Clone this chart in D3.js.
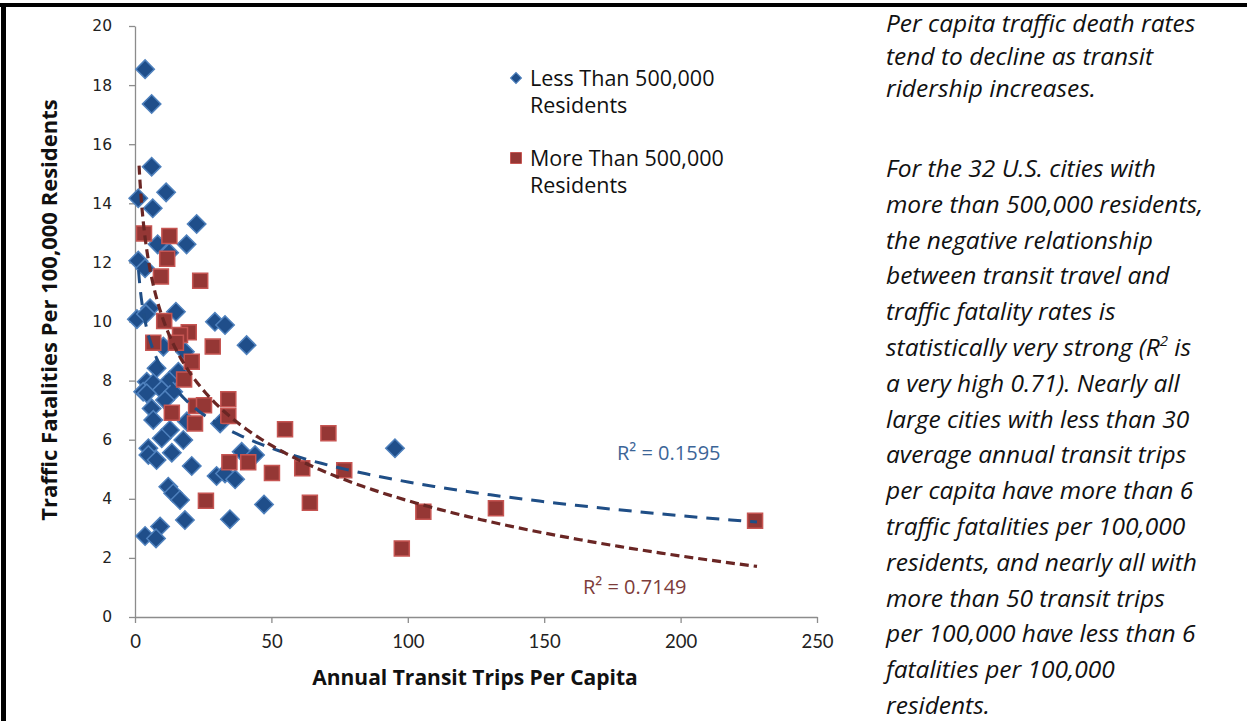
<!DOCTYPE html>
<html lang="en">
<head>
<meta charset="UTF-8">
<title>Traffic Fatalities vs Transit Trips</title>
<script src="https://d3js.org/d3.v7.min.js"></script>
<style>
    body { margin: 0; background: #fff; }
    svg { display: block; }
</style>
</head>
<body>
<div id="chart"></div>
<script>
// cities under 500,000 residents (annual transit trips per capita, fatalities per 100k)
var lessTrips  = [3.7, 6.1, 6.1, 11.4, 1.2, 6.5, 22.6, 1.2, 8.3, 18.9, 12.5, 3.7, 5.5, 0.7, 4.0, 15.0, 29.3, 33.0, 40.9, 10.4,
                  18.3, 7.9, 4.3, 6.7, 12.8, 9.8, 15.9, 3.0, 14.0, 4.3, 11.0, 6.1, 6.7, 12.8, 9.8, 17.7, 4.9, 4.9, 7.9, 13.5,
                  20.8, 31.2, 39.1, 44.0, 29.9, 33.0, 36.7, 12.2, 14.0, 16.5, 18.3, 34.8, 47.3, 9.2, 3.7, 7.7, 95.3, 19.0];
var lessDeaths = [18.54, 17.36, 15.24, 14.37, 14.17, 13.83, 13.30, 12.06, 12.61, 12.61, 12.33, 11.80, 10.45, 10.08, 10.25, 10.33, 9.99, 9.88, 9.20, 9.15,
                  8.98, 8.42, 7.96, 7.91, 8.02, 7.68, 8.30, 7.62, 7.62, 7.57, 7.34, 7.06, 6.67, 6.33, 6.05, 5.99, 5.71, 5.48, 5.31, 5.56,
                  5.11, 6.55, 5.59, 5.48, 4.77, 4.86, 4.66, 4.41, 4.19, 3.96, 3.28, 3.31, 3.81, 3.06, 2.74, 2.66, 5.71, 6.62];

// cities over 500,000 residents
var moreTrips  = [3.3, 12.6, 11.8, 9.5, 23.9, 10.7, 19.7, 16.5, 6.7, 15.0, 28.5, 20.8, 18.0, 34.2, 13.5, 22.4,
                  25.3, 34.2, 22.0, 55.0, 34.6, 41.5, 50.2, 26.0, 70.9, 61.3, 76.7, 64.1, 105.7, 97.8, 132.3, 227.3];
var moreDeaths = [12.98, 12.89, 12.12, 11.52, 11.38, 10.02, 9.64, 9.54, 9.28, 9.28, 9.15, 8.64, 8.04, 7.37, 6.91, 7.14,
                  7.17, 6.80, 6.55, 6.35, 5.24, 5.24, 4.87, 3.93, 6.22, 5.03, 4.97, 3.87, 3.56, 2.32, 3.68, 3.26];

// log trendlines as drawn in the source, y = a + b*ln(x), and the x span they cover
var trendCoefs = [[12.17, -1.65], [16.37, -2.70]];
var trendSpans = [[1.3, 228], [1.5, 228]];

var xTicks = [0, 50, 100, 150, 200, 250];
var yTicks = [0, 2, 4, 6, 8, 10, 12, 14, 16, 18, 20];
var legendLabels = [["Less Than 500,000", "Residents"], ["More Than 500,000", "Residents"]];
var r2Labels = ["R\u00B2 = 0.1595", "R\u00B2 = 0.7149"];

var noteFirst = ["Per capita traffic death rates", "tend to decline as transit", "ridership increases."];
var noteSecond = ["For the 32 U.S. cities with", "more than 500,000 residents,", "the negative relationship",
                  "between transit travel and", "traffic fatality rates is", "statistically very strong (R|2| is",
                  "a very high 0.71). Nearly all", "large cities with less than 30", "average annual transit trips",
                  "per capita have more than 6", "traffic fatalities per 100,000", "residents, and nearly all with",
                  "more than 50 transit trips", "per 100,000 have less than 6", "fatalities per 100,000", "residents."];

var width = 1247, height = 721;
var margin = {left: 135, top: 26, right: 430, bottom: 104};

var svg = d3.select("#chart").append("svg")
    .attr("width", width)
    .attr("height", height);

// black frame at top and left
svg.append("rect").attr("x", 0).attr("y", 3).attr("width", width).attr("height", 4).attr("fill", "#000");
svg.append("rect").attr("x", 1).attr("y", 3).attr("width", 5).attr("height", height).attr("fill", "#000");

var x = d3.scaleLinear().domain([0, 250]).range([margin.left, width - margin.right]);
var y = d3.scaleLinear().domain([0, 20]).range([height - margin.bottom, margin.top]);

//axes
var yAxis = svg.append("g")
    .attr("transform", "translate(" + margin.left + ",0)")
    .call(d3.axisLeft(y).tickValues(yTicks).tickSize(6).tickSizeOuter(0).tickPadding(17));
var xAxis = svg.append("g")
    .attr("transform", "translate(0," + (height - margin.bottom) + ")")
    .call(d3.axisBottom(x).tickValues(xTicks).tickSize(6).tickSizeOuter(0).tickPadding(12));

svg.selectAll(".domain, .tick line").attr("stroke", "#8c8c8c").attr("stroke-width", 1.3);
yAxis.selectAll("text").attr("font-family", "DejaVu Sans").attr("font-size", 15.5).attr("fill", "#222");
xAxis.selectAll("text").attr("font-family", "Lato").attr("font-size", 18.5).attr("fill", "#222");

svg.append("text")
    .attr("x", 475).attr("y", 685)
    .attr("text-anchor", "middle")
    .attr("font-family", "Open Sans").attr("font-weight", "bold").attr("font-size", 21)
    .attr("fill", "#111")
    .text("Annual Transit Trips Per Capita");
svg.append("text")
    .attr("transform", "translate(57,310) rotate(-90)")
    .attr("text-anchor", "middle")
    .attr("font-family", "Open Sans").attr("font-weight", "bold").attr("font-size", 22)
    .attr("fill", "#111")
    .text("Traffic Fatalities Per 100,000 Residents");

function trendPath(coef, span) {
    var pts = d3.range(0, 121).map(function (i) {
        var xv = span[0] * Math.pow(span[1] / span[0], i / 120);
        return [xv, coef[0] + coef[1] * Math.log(xv)];
    });
    return d3.line().x(function (d) { return x(d[0]); }).y(function (d) { return y(d[1]); })(pts);
}

var lessData = lessTrips.map(function (t, i) { return {t: t, d: lessDeaths[i]}; });
var moreData = moreTrips.map(function (t, i) { return {t: t, d: moreDeaths[i]}; });

var diamond = d3.symbol().type(d3.symbolSquare).size(170);
var square = d3.symbol().type(d3.symbolSquare).size(225);

svg.append("g").selectAll("path")
    .data(lessData)
    .join("path")
    .attr("d", diamond)
    .attr("transform", function (d) { return "translate(" + x(d.t) + "," + y(d.d) + ") rotate(45)"; })
    .attr("fill", "#1f4e8a")
    .attr("stroke", "#4f81bd")
    .attr("stroke-width", 1.5);

svg.append("g").selectAll("path")
    .data(moreData)
    .join("path")
    .attr("d", square)
    .attr("transform", function (d) { return "translate(" + x(d.t) + "," + y(d.d) + ")"; })
    .attr("fill", "#953735")
    .attr("stroke", "#c65552")
    .attr("stroke-width", 1.5);

svg.append("path")
    .attr("d", trendPath(trendCoefs[0], trendSpans[0]))
    .attr("fill", "none")
    .attr("stroke", "#1f4e86")
    .attr("stroke-width", 3)
    .attr("stroke-dasharray", "13,9");
svg.append("path")
    .attr("d", trendPath(trendCoefs[1], trendSpans[1]))
    .attr("fill", "none")
    .attr("stroke", "#6a2624")
    .attr("stroke-width", 3.2)
    .attr("stroke-dasharray", "9,5");

svg.append("text").attr("x", 617).attr("y", 460)
    .attr("font-family", "Open Sans").attr("font-size", 20).attr("fill", "#3c6597")
    .text(r2Labels[0]);
svg.append("text").attr("x", 583).attr("y", 594)
    .attr("font-family", "Open Sans").attr("font-size", 20).attr("fill", "#7d3c3a")
    .text(r2Labels[1]);

//legend
var legend = svg.append("g");
legend.append("path").attr("d", d3.symbol().type(d3.symbolSquare).size(60))
    .attr("transform", "translate(516,78) rotate(45)")
    .attr("fill", "#1f4e8a").attr("stroke", "#4f81bd").attr("stroke-width", 1);
legend.append("path").attr("d", d3.symbol().type(d3.symbolSquare).size(120))
    .attr("transform", "translate(516,158)")
    .attr("fill", "#953735").attr("stroke", "#c65552").attr("stroke-width", 1);
legendLabels.forEach(function (lines, k) {
    var t = legend.append("text")
        .attr("font-family", "Open Sans").attr("font-size", 21.5).attr("fill", "#111");
    lines.forEach(function (s, j) {
        t.append("tspan").attr("x", 530).attr("y", 86 + k * 80 + j * 26.5).text(s);
    });
});

// notes on the right
var note = svg.append("g")
    .attr("font-family", "Open Sans").attr("font-style", "italic").attr("font-size", 24.5).attr("fill", "#111");
noteFirst.forEach(function (s, i) {
    note.append("text").attr("x", 886).attr("y", 32 + i * 32.5).text(s);
});
noteSecond.forEach(function (s, i) {
    var t = note.append("text").attr("x", 886).attr("y", 177 + i * 35.8);
    var parts = s.split("|");
    t.append("tspan").text(parts[0]);
    if (parts.length > 1) {
        t.append("tspan").attr("font-size", 15).attr("dy", -10).text(parts[1]);
        t.append("tspan").attr("dy", 10).text(parts[2]);
    }
});
</script>
</body>
</html>
